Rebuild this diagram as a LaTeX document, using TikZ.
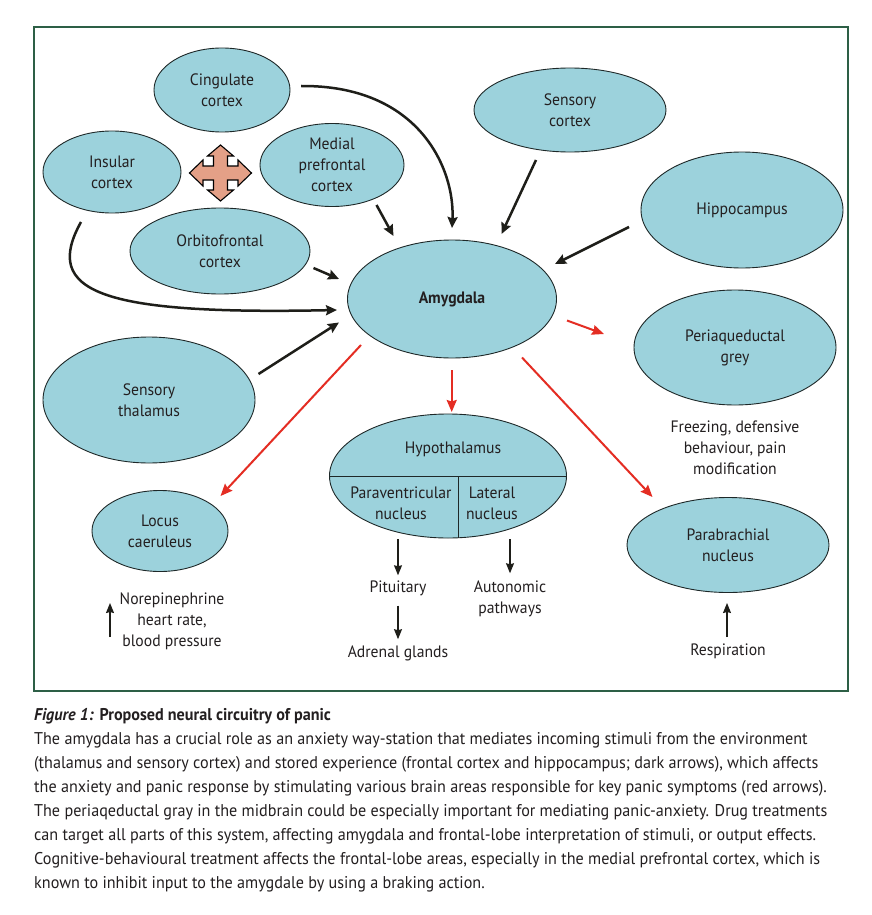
\documentclass[tikz,border=0pt]{standalone}
\usepackage{fontspec}
\setmainfont[FakeStretch=0.95]{PT Sans}
\newfontfamily\captionfam[FakeStretch=0.95]{PT Sans}
\usetikzlibrary{arrows.meta,shapes.geometric,calc}
\definecolor{boxfill}{RGB}{156,210,220}
\definecolor{outl}{RGB}{30,40,40}
\definecolor{darkarr}{RGB}{30,30,25}
\definecolor{redarr}{RGB}{228,45,35}
\definecolor{framecol}{RGB}{45,95,70}
\definecolor{salmon}{RGB}{228,160,135}
\definecolor{txt}{RGB}{35,31,32}
\newcommand\diagfont{\fontsize{16.5}{21}\selectfont}
\newcommand\capfont{\captionfam\fontsize{17}{24}\selectfont}
\begin{document}
\begin{tikzpicture}[x=1pt,y=-1pt,
  region/.style={ellipse, draw=outl, line width=0.9pt, fill=boxfill, inner sep=0pt, align=center, font=\diagfont, text=txt},
  darr/.style={draw=darkarr, line width=2.5pt, -{Stealth[length=11pt,width=10pt,inset=1.5pt]}},
  rarr/.style={draw=redarr, line width=2pt, -{Stealth[length=12pt,width=10pt,inset=1.5pt]}},
  sarr/.style={draw=darkarr, line width=1.1pt, -{Stealth[length=10pt,width=8pt,inset=1pt]}},
  lbl/.style={align=center, font=\diagfont, text=txt, inner sep=0pt},
  capline/.style={anchor=base west, inner sep=0pt, font=\capfont, text=txt}]
\useasboundingbox (0,0) rectangle (872,915);
\fill[white] (0,0) rectangle (872,915);
\draw[framecol, line width=1.2pt] (34,27) rectangle (848,691);

% regions
\node[region, minimum width=136pt, minimum height=84pt] (cing) at (222,90) {Cingulate\\cortex};
\node[region, minimum width=138pt, minimum height=82pt] (ins) at (112,172) {Insular\\cortex};
\node[region, minimum width=144pt, minimum height=83pt] (mpfc) at (332,165) {Medial\\prefrontal\\cortex};
\node[region, minimum width=180pt, minimum height=86pt] (ofc) at (220,251) {Orbitofrontal\\cortex};
\node[region, minimum width=192pt, minimum height=84pt] (scx) at (570,110) {Sensory\\cortex};
\node[region, minimum width=202pt, minimum height=116pt] (hip) at (742,210) {Hippocampus};
\node[region, minimum width=209pt, minimum height=118pt, font=\diagfont\bfseries] (amy) at (452,299) {Amygdala};
\node[region, minimum width=202pt, minimum height=115pt] (pag) at (735,347.5) {Periaqueductal\\grey};
\node[region, minimum width=212pt, minimum height=126pt] (sth) at (149,400) {Sensory\\thalamus};
\node[region, minimum width=237pt, minimum height=124pt] (hyp) at (448,476) {};
\node[region, minimum width=136pt, minimum height=81pt] (lc) at (160,531) {Locus\\caeruleus};
\node[region, minimum width=202pt, minimum height=95pt] (pbn) at (728,545) {Parabrachial\\nucleus};

% hypothalamus subdivisions
\draw[outl, line width=0.9pt] (hyp.west) -- (hyp.east);
\draw[outl, line width=0.9pt] ($(hyp.center)+(10,0)$) -- ($(hyp.south)+(10,0)$);
\node[lbl] (hyptxt) at (453,449) {Hypothalamus};
\node[lbl] (pvn) at (401,503.5) {Paraventricular\\nucleus};
\node[lbl] (lat) at (492,503.5) {Lateral\\nucleus};

% move symbol
\filldraw[fill=salmon, draw=black, line width=1.1pt, line join=miter, shift={(220.5,173)}]
  (0,-28) -- (13,-17) -- (7,-17) -- (7,-7) -- (17.5,-7) -- (17.5,-13) -- (31,0)
  -- (17.5,13) -- (17.5,7) -- (7,7) -- (7,17) -- (13,17) -- (0,28)
  -- (-13,17) -- (-7,17) -- (-7,7) -- (-17.5,7) -- (-17.5,13) -- (-31,0)
  -- (-17.5,-13) -- (-17.5,-7) -- (-7,-7) -- (-7,-17) -- (-13,-17) -- cycle;

% connector end points
\coordinate (cingout) at (301,86);
\coordinate (amytop) at (452,228);
\coordinate (mpfcout) at (376.5,205);
\coordinate (amyA) at (393.5,236);
\coordinate (scxout) at (536,160);
\coordinate (amyB) at (501.5,234);
\coordinate (hipout) at (629,227);
\coordinate (amyC) at (555,264);
\coordinate (ofcout) at (313.5,268);
\coordinate (amyD) at (339,279);
\coordinate (insout) at (81,222);
\coordinate (amyE) at (337,310);
\coordinate (sthout) at (258.5,374);
\coordinate (amyF) at (339,322.5);
\coordinate (amyG) at (567,320.5);
\coordinate (pagin) at (604,334);
\coordinate (amyH) at (361,345);
\coordinate (lcin) at (220.5,496);
\coordinate (amyI) at (451.7,370);
\coordinate (hypin) at (451.7,412);
\coordinate (amyJ) at (522,357.5);
\coordinate (pbnin) at (652.5,497);

% dark (input) arrows
\draw[darr] (cingout) .. controls (420,85) and (455,170) .. (amytop);
\draw[darr] (mpfcout) -- (amyA);
\draw[darr] (scxout) -- (amyB);
\draw[darr] (hipout) -- (amyC);
\draw[darr] (ofcout) -- (amyD);
\draw[darr] (insout) .. controls (42,292) and (100,315) .. (amyE);
\draw[darr] (sthout) -- (amyF);

% red (output) arrows
\draw[rarr] (amyG) -- (pagin);
\draw[rarr] (amyH) -- (lcin);
\draw[rarr] (amyI) -- (hypin);
\draw[rarr] (amyJ) -- (pbnin);

% lower labels and small arrows
\node[lbl] (pit) at (398,588) {Pituitary};
\node[lbl] (adr) at (398,653) {Adrenal glands};
\node[lbl] (aut) at (510,598.5) {Autonomic\\pathways};
\node[lbl] (frz) at (735,448) {Freezing, defensive\\behaviour, pain\\modification};
\node[lbl] (nor) at (172,621.5) {Norepinephrine\\heart rate,\\blood pressure};
\node[lbl] (resp) at (728,651) {Respiration};

\coordinate (pvnout) at (398,539);
\coordinate (latout) at (510,539);
\coordinate (norlo) at (110,637);
\coordinate (norhi) at (110,603);
\coordinate (resplo) at (727,637);
\coordinate (resphi) at (727,603);
\draw[sarr] (pvnout) -- ($(pit.north)+(0,-5)$);
\draw[sarr] ($(pit.south)+(0,10)$) -- ($(adr.north)+(0,-6)$);
\draw[sarr] (latout) -- ($(aut.north)+(0,-7)$);
\draw[sarr] (norlo) -- (norhi);
\draw[sarr] (resplo) -- (resphi);

% caption
\node[capline] (cap1) at (34,720) {\textbf{\textit{Figure 1:}} \textbf{Proposed neural circuitry of panic}};
\node[capline] (cap2) at (34,744) {The amygdala has a crucial role as an anxiety way-station that mediates incoming stimuli from the environment};
\node[capline] (cap3) at (34,768) {(thalamus and sensory cortex) and stored experience (frontal cortex and hippocampus; dark arrows), which affects};
\node[capline] (cap4) at (34,792) {the anxiety and panic response by stimulating various brain areas responsible for key panic symptoms (red arrows).};
\node[capline] (cap5) at (34,816) {The periaqeductal gray in the midbrain could be especially important for mediating panic-anxiety. Drug treatments};
\node[capline] (cap6) at (34,840) {can target all parts of this system, affecting amygdala and frontal-lobe interpretation of stimuli, or output effects.};
\node[capline] (cap7) at (34,864) {Cognitive-behavioural treatment affects the frontal-lobe areas, especially in the medial prefrontal cortex, which is};
\node[capline] (cap8) at (34,888) {known to inhibit input to the amygdale by using a braking action.};
\end{tikzpicture}
\end{document}
